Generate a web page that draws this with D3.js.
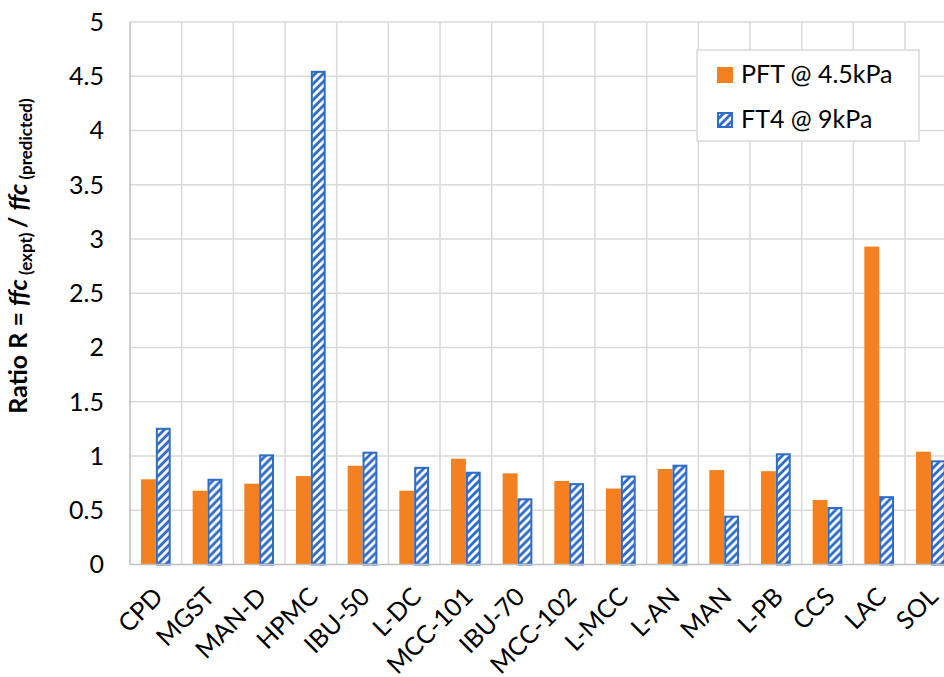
<!DOCTYPE html>
<html>
<head>
<meta charset="utf-8">
<script src="https://cdn.jsdelivr.net/npm/d3@7"></script>
<style>
  body { margin: 0; background: #fff; }
  svg { display: block; overflow: hidden; }
  text { font-family: Lato, "Liberation Sans", sans-serif; fill: #000; }
</style>
</head>
<body>
<div id="chart"></div>
<script>
// data
var categories = ["CPD", "MGST", "MAN-D", "HPMC", "IBU-50", "L-DC", "MCC-101", "IBU-70",
                  "MCC-102", "L-MCC", "L-AN", "MAN", "L-PB", "CCS", "LAC", "SOL"]
var pft = [0.785, 0.68, 0.745, 0.815, 0.91, 0.68, 0.975, 0.84, 0.77, 0.70, 0.88, 0.87, 0.86, 0.595, 2.93, 1.04]
var ft4 = [1.26, 0.79, 1.015, 4.55, 1.04, 0.90, 0.855, 0.61, 0.75, 0.82, 0.92, 0.45, 1.025, 0.53, 0.63, 0.96]
var seriesNames = ["PFT @ 4.5kPa", "FT4 @ 9kPa"]
var yTicks = [0, 0.5, 1, 1.5, 2, 2.5, 3, 3.5, 4, 4.5, 5]

var orange = "#F5801F", blue = "#2E6CC8", grid = "#D9D9D9"

var W = 944, H = 677
// plot area runs past the right edge of the picture, like the reference crop
var margin = {top: 22, left: 130, bottom: 112.5},
    plotRight = 956.7,
    plotBottom = H - margin.bottom

var svg = d3.select("#chart").append("svg")
    .attr("width", W)
    .attr("height", H)

// hatched fill for FT4
var defs = svg.append("defs")
var pat = defs.append("pattern")
    .attr("id", "hatch")
    .attr("patternUnits", "userSpaceOnUse")
    .attr("width", 8)
    .attr("height", 8)
pat.append("rect").attr("width", 8).attr("height", 8).attr("fill", "#fff")
pat.append("path")
    .attr("d", "M-2,2 L2,-2 M0,8 L8,0 M6,10 L10,6")
    .attr("stroke", blue)
    .attr("stroke-width", 2.8)

var x0 = d3.scaleBand()
    .domain(categories)
    .range([margin.left, plotRight])
    .padding(0)

var groupW = x0.bandwidth() * 0.575
var x1 = d3.scaleBand()
    .domain([0, 1])
    .range([(x0.bandwidth() - groupW) / 2, (x0.bandwidth() + groupW) / 2])
    .padding(0)

var y = d3.scaleLinear()
    .domain([0, 5])
    .range([plotBottom, margin.top])

// horizontal gridlines
svg.append("g").selectAll("line")
    .data(yTicks.filter(function(d){ return d > 0 }))
  .enter().append("line")
    .attr("x1", margin.left).attr("x2", plotRight)
    .attr("y1", function(d){ return y(d) }).attr("y2", function(d){ return y(d) })
    .attr("stroke", grid).attr("stroke-width", 1.5)

// vertical gridlines at category boundaries
svg.append("g").selectAll("line")
    .data(categories.slice(1))
  .enter().append("line")
    .attr("x1", function(d){ return x0(d) }).attr("x2", function(d){ return x0(d) })
    .attr("y1", margin.top).attr("y2", plotBottom)
    .attr("stroke", grid).attr("stroke-width", 1.5)

// bars
var groups = svg.append("g").selectAll("g")
    .data(categories)
  .enter().append("g")
    .attr("transform", function(d){ return "translate(" + x0(d) + ",0)" })

groups.append("rect")
    .attr("x", x1(0))
    .attr("width", x1.bandwidth())
    .attr("y", function(d, i){ return y(pft[i]) })
    .attr("height", function(d, i){ return y(0) - y(pft[i]) })
    .attr("fill", orange)

groups.append("rect")
    .attr("x", x1(1) + 1)
    .attr("width", x1.bandwidth() - 2)
    .attr("y", function(d, i){ return y(ft4[i]) + 1 })
    .attr("height", function(d, i){ return y(0) - y(ft4[i]) - 1 })
    .attr("fill", "url(#hatch)")
    .attr("stroke", blue)
    .attr("stroke-width", 2)

// axis lines
svg.append("line")
    .attr("x1", margin.left).attr("x2", margin.left)
    .attr("y1", margin.top).attr("y2", plotBottom)
    .attr("stroke", "#BFBFBF").attr("stroke-width", 1.5)
svg.append("line")
    .attr("x1", margin.left).attr("x2", plotRight)
    .attr("y1", plotBottom).attr("y2", plotBottom)
    .attr("stroke", "#BFBFBF").attr("stroke-width", 1.5)

// y tick labels
svg.append("g").selectAll("text")
    .data(yTicks)
  .enter().append("text")
    .attr("x", 104)
    .attr("y", function(d){ return y(d) })
    .attr("dy", "0.35em")
    .attr("text-anchor", "end")
    .style("font-size", "25px")
    .text(function(d){ return d })

// x tick labels, rotated
svg.append("g").selectAll("text")
    .data(categories)
  .enter().append("text")
    .attr("text-anchor", "end")
    .attr("transform", function(d){
        var cx = x0(d) + x0.bandwidth() / 2 - 4
        return "translate(" + cx + "," + (plotBottom + 21) + ") rotate(-45)" })
    .attr("dy", "0.72em")
    .style("font-size", "25px")
    .text(function(d){ return d })

// y axis title
var title = svg.append("text")
    .attr("transform", "translate(27,256) rotate(-90)")
    .attr("text-anchor", "middle")
    .style("font-size", "25px")
    .style("font-weight", "bold")
title.append("tspan").text("Ratio R = ")
title.append("tspan").style("font-style", "italic").text("ffc")
title.append("tspan").style("font-size", "17px").attr("dy", 5).text(" (expt) ")
title.append("tspan").attr("dy", -5).text("/ ")
title.append("tspan").style("font-style", "italic").text("ffc")
title.append("tspan").style("font-size", "17px").attr("dy", 5).text(" (predicted)")

// legend
var leg = svg.append("g").attr("transform", "translate(697,50)")
leg.append("rect")
    .attr("width", 222).attr("height", 91)
    .attr("fill", "#fff")
    .attr("stroke", grid).attr("stroke-width", 1.5)

var items = leg.selectAll("g.item")
    .data(seriesNames)
  .enter().append("g")
    .attr("class", "item")
    .attr("transform", function(d, i){ return "translate(20," + (17 + i * 45) + ")" })

items.append("rect")
    .attr("x", function(d, i){ return i ? 1 : 0 })
    .attr("y", function(d, i){ return i ? 1 : 0 })
    .attr("width", function(d, i){ return i ? 14 : 16 })
    .attr("height", function(d, i){ return i ? 14 : 16 })
    .attr("fill", function(d, i){ return i ? "url(#hatch)" : orange })
    .attr("stroke", function(d, i){ return i ? blue : "none" })
    .attr("stroke-width", 2)

items.append("text")
    .attr("x", 24)
    .attr("y", 16)
    .style("font-size", "25px")
    .text(function(d){ return d })
</script>
</body>
</html>
